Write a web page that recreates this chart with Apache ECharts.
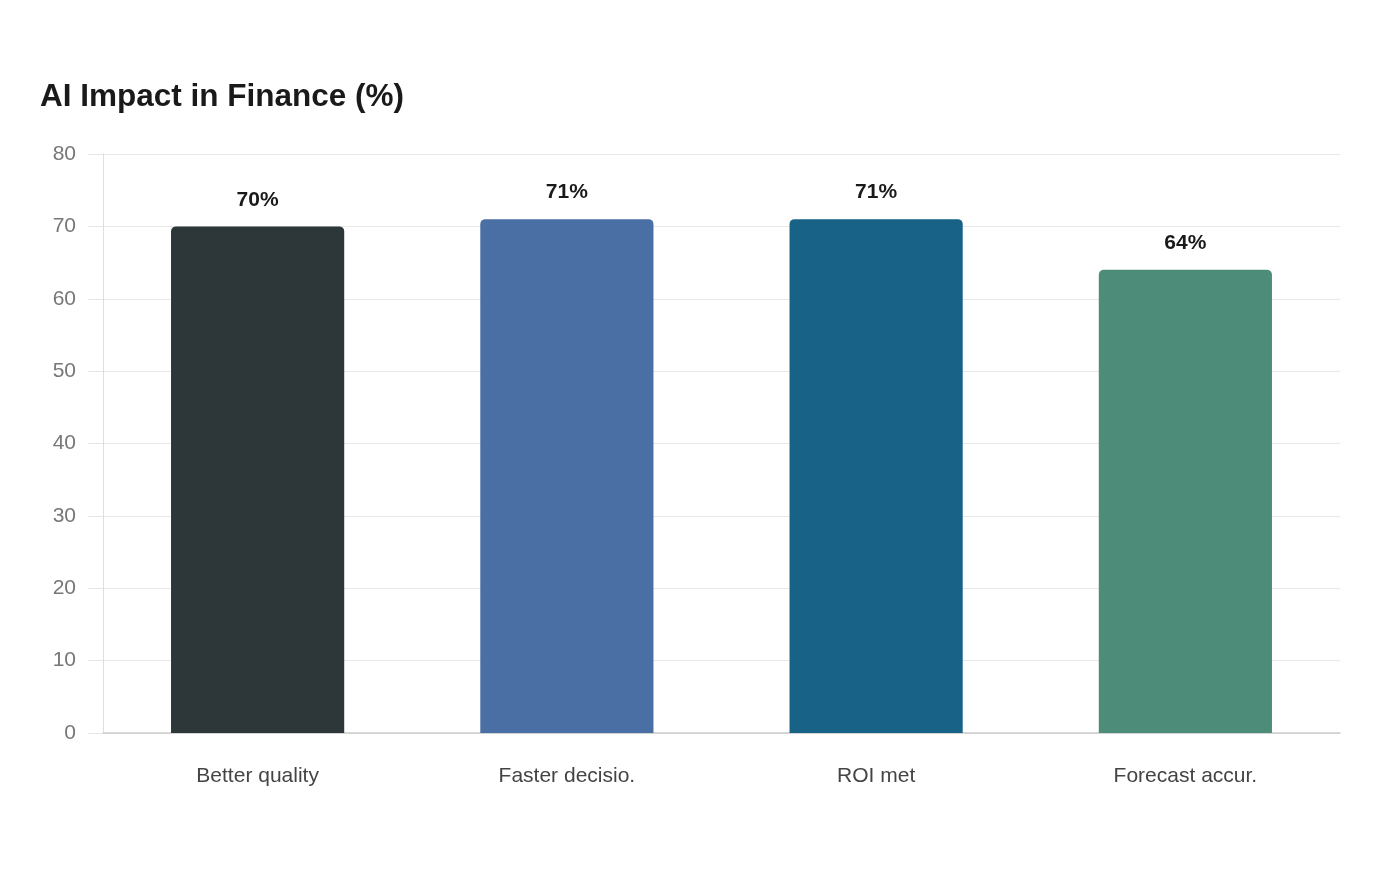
<!DOCTYPE html>
<html>
<head>
<meta charset="utf-8">
<script src="https://cdn.jsdelivr.net/npm/echarts@6/dist/echarts.min.js"></script>
<style>
  html, body { margin: 0; padding: 0; background: #fff; }
  #chart { width: 1400px; height: 880px; }
</style>
</head>
<body>
<div id="chart"></div>
<script>
var categories = ['Better quality', 'Faster decisio.', 'ROI met', 'Forecast accur.'];
var values = [70, 71, 71, 64];
var barColors = ['#2d3638', '#4a6fa5', '#186187', '#4e8c7a'];
var yTicks = [0, 10, 20, 30, 40, 50, 60, 70, 80];

var fontStack = '"Liberation Sans", Arial, sans-serif';

var myChart = echarts.init(document.getElementById('chart'));
var option = {
  backgroundColor: '#fff',
  title: {
    text: 'AI Impact in Finance (%)',
    left: 35,
    top: 76,
    textStyle: {
      fontFamily: fontStack,
      fontSize: 31.5,
      fontWeight: 'bold',
      color: '#1a1a1a'
    }
  },
  grid: {
    left: 103,
    right: 60,
    top: 154,
    bottom: 147
  },
  xAxis: {
    type: 'category',
    data: categories,
    axisLine: { lineStyle: { color: '#cccccc', width: 1.5 } },
    axisTick: { show: false },
    axisLabel: {
      margin: 33,
      fontFamily: fontStack,
      fontSize: 21,
      color: '#444'
    }
  },
  yAxis: {
    type: 'value',
    min: yTicks[0],
    max: yTicks[yTicks.length - 1],
    interval: 10,
    axisLine: { show: true, lineStyle: { color: '#d8d8d8', type: 'dotted' } },
    axisTick: { show: true, length: 15, lineStyle: { color: '#e6e6e6' } },
    splitLine: { lineStyle: { color: '#e8e8e8' } },
    axisLabel: {
      margin: 27,
      fontFamily: fontStack,
      fontSize: 21,
      color: '#777'
    }
  },
  series: [{
    type: 'bar',
    barWidth: '56%',
    data: values.map(function (v, i) {
      return { value: v, itemStyle: { color: barColors[i] } };
    }),
    itemStyle: { borderRadius: [5, 5, 0, 0] },
    label: {
      show: true,
      position: 'top',
      distance: 16,
      formatter: '{c}%',
      fontFamily: fontStack,
      fontSize: 21,
      fontWeight: 'bold',
      color: '#1a1a1a'
    }
  }]
};
myChart.setOption(option);
</script>
</body>
</html>
